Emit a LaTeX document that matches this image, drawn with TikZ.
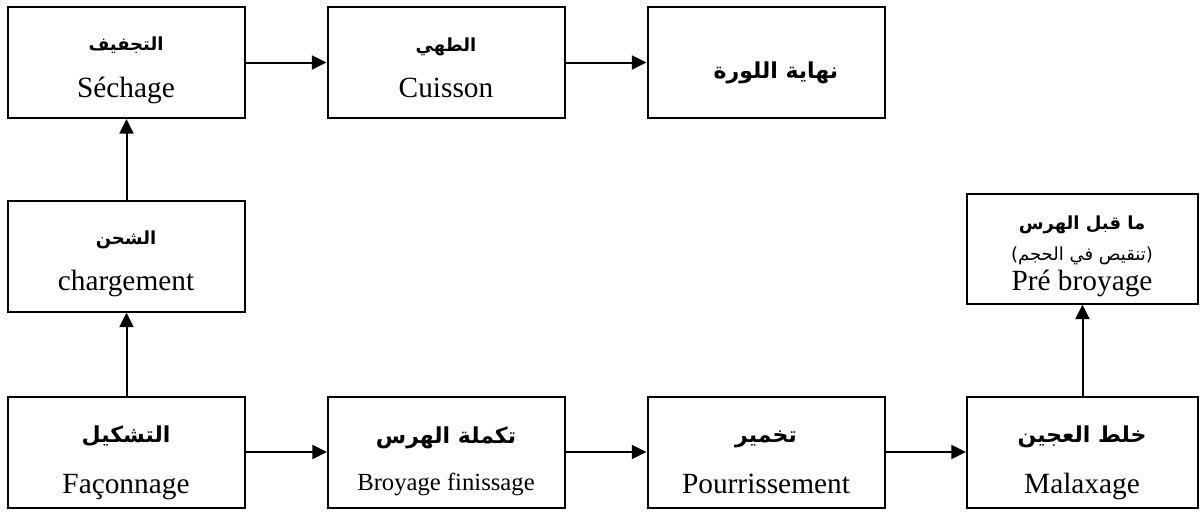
\documentclass[tikz,border=0pt]{standalone}
\usepackage{fontspec}
\setmainfont{Liberation Serif}
\newfontfamily\arabicfont[Script=Arabic]{DejaVu Sans}
\TeXXeTstate=1
\usetikzlibrary{arrows.meta}
\tikzset{
  box/.style={draw, line width=1.5pt, inner sep=0pt, minimum width=177.75pt, minimum height=83.25pt},
  rbox/.style={box, minimum width=173.25pt},
  lat/.style={anchor=base, inner sep=0pt, font=\fontsize{22}{24}\selectfont},
  latsm/.style={anchor=base, inner sep=0pt, font=\fontsize{18.5}{20}\selectfont},
  arS/.style={anchor=base, inner sep=0pt, font=\fontsize{13.5}{15}\selectfont\arabicfont\bfseries},
  arL/.style={anchor=base, inner sep=0pt, font=\fontsize{16.5}{18}\selectfont\arabicfont\bfseries},
  arN/.style={anchor=base, inner sep=0pt, font=\fontsize{13.5}{15}\selectfont\arabicfont},
  flow/.style={line width=1.5pt, -{Triangle[length=11pt,width=10.5pt]}}
}
\begin{document}
\begin{tikzpicture}[x=0.75pt,y=-0.75pt]
\useasboundingbox (0,0) rectangle (1200,511);
% boxes
\node[box] (sech) at (126.5,62.5) {};
\node[box] (cuis) at (446,62.5) {};
\node[box] (fin) at (766,62.5) {};
\node[box] (charg) at (126.5,256) {};
\node[rbox, minimum height=82.5pt] (pre) at (1082.5,248.5) {};
\node[box] (fac) at (126.5,452) {};
\node[box] (broy) at (446.5,452) {};
\node[box] (pourr) at (766,452) {};
\node[rbox] (malax) at (1082.5,452) {};
% texts
\node[arS] (sechA) at (126,50) {\beginR التجفيف\endR};
\node[lat] (sechL) at (126,97) {Séchage};
\node[arS] (cuisA) at (446,51) {\beginR الطهي\endR};
\node[lat] (cuisL) at (446,97) {Cuisson};
\node[arL] (finA) at (776,78) {\beginR نهاية اللورة\endR};
\node[arS] (chargA) at (126,244) {\beginR الشحن\endR};
\node[lat] (chargL) at (126,290) {chargement};
\node[arS] (preA) at (1082,229) {\beginR ما قبل الهرس\endR};
\node[arN] (preB) at (1082,260) {\beginR (تنقيص في الحجم)\endR};
\node[lat] (preL) at (1082,290) {Pré broyage};
\node[arL] (facA) at (126,442) {\beginR التشكيل\endR};
\node[lat] (facL) at (126,493) {Façonnage};
\node[arL] (broyA) at (446,443) {\beginR تكملة الهرس\endR};
\node[latsm] (broyL) at (446,490) {Broyage finissage};
\node[arL] (pourrA) at (766,442) {\beginR تخمير\endR};
\node[lat] (pourrL) at (766,493) {Pourrissement};
\node[arL] (malaxA) at (1082,442) {\beginR خلط العجين\endR};
\node[lat] (malaxL) at (1082,493) {Malaxage};
% connectors
\draw[flow] (sech.east) -- (cuis.west);
\draw[flow] (cuis.east) -- (fin.west);
\draw[flow] (charg.north) -- (sech.south);
\draw[flow] (fac.north) -- (charg.south);
\draw[flow] (fac.east) -- (broy.west);
\draw[flow] (broy.east) -- (pourr.west);
\draw[flow] (pourr.east) -- (malax.west);
\draw[flow] (malax.north) -- (pre.south);
\end{tikzpicture}
\end{document}
